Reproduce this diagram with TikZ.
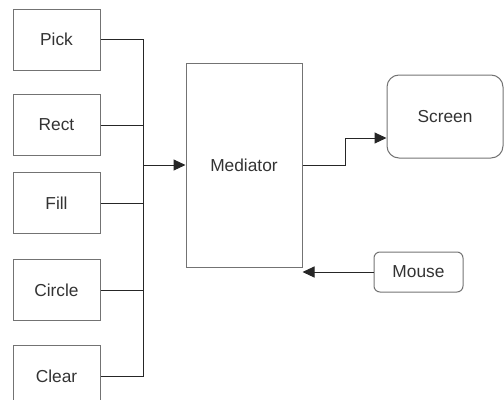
\documentclass[tikz,border=0pt]{standalone}
\usepackage{fontspec}
\setmainfont{Liberation Sans}
\usetikzlibrary{arrows.meta}

\tikzset{
  cmdbox/.style={draw=black!55, line width=0.75pt, minimum width=65.25pt, minimum height=45.75pt, inner sep=0pt, text=black!80},
  wire/.style={draw=black!85, line width=0.75pt},
  tip/.style={-{Triangle[length=9pt,width=8.25pt]}}
}

\begin{document}
\begin{tikzpicture}[x=0.75pt,y=-0.75pt,font=\fontsize{13}{15}\selectfont]
\useasboundingbox (0,0) rectangle (504,400);

% command buttons on the left
\node[cmdbox] (pick) at (56.5,39.5) {Pick};
\node[cmdbox] (rect) at (56.5,125) {Rect};
\node[cmdbox] (fill) at (56.5,203) {Fill};
\node[cmdbox] (circle) at (56.5,290) {Circle};
\node[cmdbox] (clear) at (56.5,376) {Clear};

% mediator, screen and mouse
\node[cmdbox, minimum width=87pt, minimum height=153pt] (mediator) at (244,165) {Mediator};
\node[cmdbox, minimum width=87pt, minimum height=62.25pt, rounded corners=9pt] (screen) at (445,116.5) {Screen};
\node[cmdbox, minimum width=66.75pt, minimum height=30pt, rounded corners=4.5pt] (mouse) at (418.5,272) {Mouse};

% bus joining the buttons
\coordinate (bustop) at (143,39.5);
\coordinate (busbot) at (143,376);
\draw[wire] (pick.east) -- (bustop) -- (busbot) -- (clear.east);
\draw[wire] (rect.east) -- (rect.east -| bustop);
\draw[wire] (fill.east) -- (fill.east -| bustop);
\draw[wire] (circle.east) -- (circle.east -| bustop);
\draw[wire,tip] (bustop |- mediator.west) -- (mediator.west);

% mediator to screen, mouse to mediator
\coordinate (jog) at (345,138);
\draw[wire,tip] (mediator.east) -| (jog) -- (jog -| screen.west);
\draw[wire,tip] (mouse.west) -- (mouse.west -| mediator.east);

\end{tikzpicture}
\end{document}
